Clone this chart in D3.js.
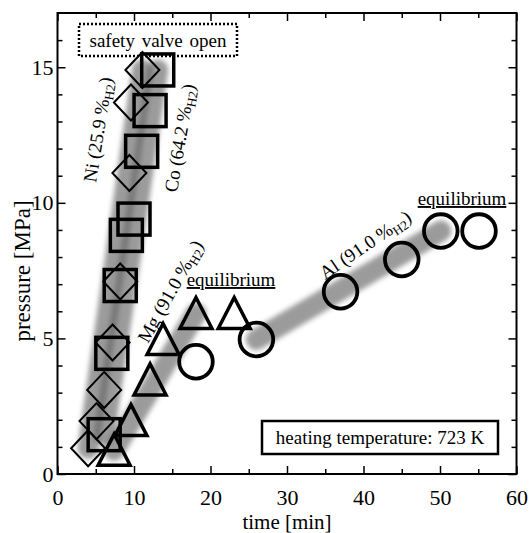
<!DOCTYPE html>
<html>
<head>
<meta charset="utf-8">
<script src="https://cdn.jsdelivr.net/npm/d3@7"></script>
<style>
  body { margin: 0; background: #fff; }
  svg text { font-family: "Liberation Serif", "Times New Roman", serif; }
</style>
</head>
<body>
<div id="chart"></div>
<script>
// values
const niT = [4.0, 5.1, 6.1, 7.2, 8.2, 9.4, 9.6, 11.1];
const niP = [0.95, 1.95, 3.1, 4.85, 7.1, 11.1, 13.7, 14.9];
const coT = [6.1, 7.1, 8.2, 9.0, 10.0, 11.0, 12.1, 13.1];
const coP = [1.45, 4.45, 6.95, 8.8, 9.4, 11.9, 13.4, 14.9];
const mgT = [7.4, 9.6, 12.1, 13.8, 18.1, 23.1];
const mgP = [0.88, 1.97, 3.47, 4.96, 5.92, 5.92];
const alT = [18.1, 26.0, 37.0, 45.0, 50.1, 55.1];
const alP = [4.14, 4.96, 6.72, 7.91, 8.96, 8.96];
const xTicks = [0, 10, 20, 30, 40, 50, 60];
const yTicks = [0, 5, 10, 15];

const W = 529, H = 533;
const FONT = "Liberation Serif";
const x = d3.scaleLinear().domain([0, 60]).range([57.5, 516.5]);
const y = d3.scaleLinear().domain([0, 17]).range([474, 13]);

const svg = d3.select("#chart").append("svg")
  .attr("width", W).attr("height", H)
  .attr("font-family", FONT);

const zip = (a, b) => a.map((d, i) => [d, b[i]]);
const ni = zip(niT, niP), co = zip(coT, coP), mg = zip(mgT, mgP), al = zip(alT, alP);

// blurred gray bands behind the points
svg.append("defs").append("filter").attr("id", "blur")
  .attr("x", "-50%").attr("y", "-50%").attr("width", "200%").attr("height", "200%")
  .append("feGaussianBlur").attr("stdDeviation", 2.5);

const bands = [
  [ni[0], ni[ni.length - 1]],
  [co[0], co[co.length - 1]],
  [mg[0], mg[4]],
  [al[1], al[4]]
];
const line = d3.line().x(d => x(d[0])).y(d => y(d[1]));
bands.forEach(b => {
  svg.append("g").attr("opacity", 0.6).attr("filter", "url(#blur)")
    .append("path").attr("d", line(b))
    .attr("fill", "none").attr("stroke", "#5a5a5a")
    .attr("stroke-width", 21).attr("stroke-linecap", "round");
});

// safety valve box sits over the band but under the points
svg.append("rect").attr("x", 79).attr("y", 24).attr("width", 158).attr("height", 32)
  .attr("fill", "#fff").attr("stroke", "#000").attr("stroke-width", 2.5)
  .attr("stroke-dasharray", "2,2");

// axes, ticks inward on all four sides
function styleAxis(g) {
  g.attr("font-family", FONT);
  g.select(".domain").remove();
  g.selectAll("line").attr("stroke", "#000").attr("stroke-width", 1.5);
  g.selectAll("text").attr("font-family", FONT).attr("font-size", 22).attr("fill", "#000");
}
const minorX = d3.range(5, 60, 10), minorY = d3.range(1, 17).filter(d => d % 5);

svg.append("g").attr("transform", `translate(0,${y(0)})`)
  .call(d3.axisBottom(x).tickValues(xTicks).tickSize(-8).tickPadding(15).tickFormat(d3.format("d")))
  .call(styleAxis);
svg.append("g").attr("transform", `translate(0,${y(0)})`)
  .call(d3.axisBottom(x).tickValues(minorX).tickSize(-5).tickFormat(""))
  .call(styleAxis);
svg.append("g").attr("transform", `translate(0,${y(17)})`)
  .call(d3.axisTop(x).tickValues(xTicks).tickSize(-8).tickFormat(""))
  .call(styleAxis);
svg.append("g").attr("transform", `translate(0,${y(17)})`)
  .call(d3.axisTop(x).tickValues(minorX).tickSize(-5).tickFormat(""))
  .call(styleAxis);
svg.append("g").attr("transform", `translate(${x(0)},0)`)
  .call(d3.axisLeft(y).tickValues(yTicks).tickSize(-8).tickPadding(4).tickFormat(d3.format("d")))
  .call(styleAxis);
svg.append("g").attr("transform", `translate(${x(0)},0)`)
  .call(d3.axisLeft(y).tickValues(minorY).tickSize(-5).tickFormat(""))
  .call(styleAxis);
svg.append("g").attr("transform", `translate(${x(60)},0)`)
  .call(d3.axisRight(y).tickValues(yTicks).tickSize(-8).tickFormat(""))
  .call(styleAxis);
svg.append("g").attr("transform", `translate(${x(60)},0)`)
  .call(d3.axisRight(y).tickValues(minorY).tickSize(-5).tickFormat(""))
  .call(styleAxis);

svg.append("rect")
  .attr("x", x(0)).attr("y", y(17))
  .attr("width", x(60) - x(0)).attr("height", y(0) - y(17))
  .attr("fill", "none").attr("stroke", "#000").attr("stroke-width", 2);

// axis titles
svg.append("text").attr("x", (x(0) + x(60)) / 2).attr("y", 529)
  .attr("text-anchor", "middle").attr("font-size", 21).text("time [min]");
svg.append("text").attr("transform", "translate(30,271) rotate(-90)")
  .attr("text-anchor", "middle").attr("font-size", 23).text("pressure [MPa]");

// markers
const mk = svg.append("g").attr("fill", "none").attr("stroke", "#000");
mk.selectAll(".ni").data(ni).join("path")
  .attr("transform", d => `translate(${x(d[0])},${y(d[1])})`)
  .attr("d", "M0,-18L17,0L0,18L-17,0Z").attr("stroke-width", 2);
mk.selectAll(".co").data(co).join("rect")
  .attr("x", d => x(d[0]) - 16).attr("y", d => y(d[1]) - 16)
  .attr("width", 32).attr("height", 32).attr("stroke-width", 3.5);
mk.selectAll(".mg").data(mg).join("path")
  .attr("transform", d => `translate(${x(d[0])},${y(d[1])})`)
  .attr("d", "M0,-16L16,15L-16,15Z").attr("stroke-width", 3.5)
  .attr("stroke-linejoin", "miter");
mk.selectAll(".al").data(al).join("circle")
  .attr("cx", d => x(d[0])).attr("cy", d => y(d[1]))
  .attr("r", 16.8).attr("stroke-width", 3.8);

// annotations
function label(tx, ty, ang, name, val) {
  const t = svg.append("text").attr("font-size", 19).attr("font-family", FONT)
    .attr("transform", `translate(${tx},${ty}) rotate(${ang})`);
  t.append("tspan").text(`${name} (${val} %`);
  t.append("tspan").attr("font-size", 13).attr("dy", 4).text("H2");
  t.append("tspan").attr("dy", -4).text(")");
}
label(96, 183, -81, "Ni", "25.9");
label(177, 193, -80.5, "Co", "64.2");
label(148, 344, -60.6, "Mg", "91.0");
label(325, 280, -34.3, "Al", "91.0");

svg.append("text").attr("x", 231).attr("y", 286).attr("text-anchor", "middle")
  .attr("font-size", 19).attr("text-decoration", "underline").text("equilibrium");
svg.append("text").attr("x", 462).attr("y", 205).attr("text-anchor", "middle")
  .attr("font-size", 19).attr("text-decoration", "underline").text("equilibrium");

svg.append("text").attr("x", 158).attr("y", 47).attr("text-anchor", "middle")
  .attr("font-size", 19).attr("word-spacing", 2).text("safety valve open");

svg.append("rect").attr("x", 262).attr("y", 421).attr("width", 236).attr("height", 33)
  .attr("fill", "#fff").attr("stroke", "#000").attr("stroke-width", 2.5);
svg.append("text").attr("x", 380).attr("y", 444).attr("text-anchor", "middle")
  .attr("font-size", 19).text("heating temperature:  723 K");
</script>
</body>
</html>
